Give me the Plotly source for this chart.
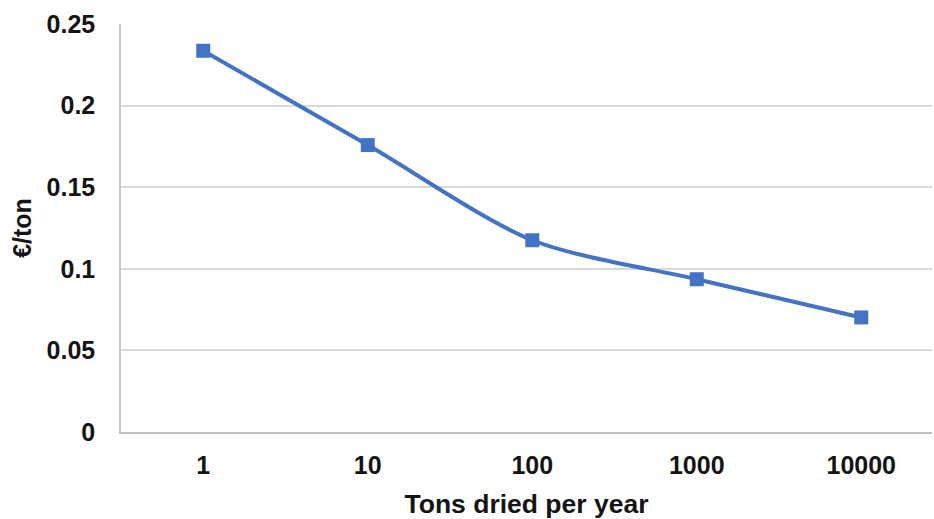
import plotly.graph_objects as go

# Drying cost per ton versus annual throughput
tons_per_year = ["1", "10", "100", "1000", "10000"]
cost_per_ton = [0.2336, 0.1758, 0.1175, 0.0936, 0.0702]
y_ticks = [0, 0.05, 0.1, 0.15, 0.2, 0.25]
y_tick_labels = ["0", "0.05", "0.1", "0.15", "0.2", "0.25"]

blue = "#4472C4"
font_family = "Liberation Sans, Arial, sans-serif"
text_color = "#141414"

fig = go.Figure(
    go.Scatter(
        x=tons_per_year,
        y=cost_per_ton,
        mode="lines+markers",
        line=dict(color=blue, width=4, shape="spline", smoothing=0.8),
        marker=dict(symbol="square", size=14, color=blue),
        showlegend=False,
    )
)

fig.update_layout(
    width=934,
    height=519,
    autosize=False,
    margin=dict(l=121, r=2, t=24, b=87),
    paper_bgcolor="white",
    plot_bgcolor="white",
    font=dict(family=font_family, color=text_color),
)

fig.update_xaxes(
    type="category",
    range=[-0.5, 4.43],
    showgrid=False,
    showline=True,
    linecolor="#bfbfbf",
    linewidth=2,
    ticks="",
    ticklabelstandoff=10,
    tickfont=dict(size=25, family=font_family, color=text_color, weight="bold"),
    title=dict(
        text="<b>Tons dried per year</b>",
        font=dict(size=26.5, family=font_family, color=text_color),
        standoff=16,
    ),
)

fig.update_yaxes(
    range=[0, 0.25],
    tickvals=y_ticks,
    ticktext=y_tick_labels,
    showgrid=True,
    gridcolor="#d9d9d9",
    gridwidth=1.5,
    showline=True,
    linecolor="#c8c8c8",
    linewidth=1.5,
    zeroline=False,
    ticks="",
    ticklabelstandoff=19,
    tickfont=dict(size=25, family=font_family, color=text_color, weight="bold"),
    title=dict(
        text="<b>€/ton</b>",
        font=dict(size=25, family=font_family, color=text_color),
        standoff=8,
    ),
)

fig.write_html("out.html")
